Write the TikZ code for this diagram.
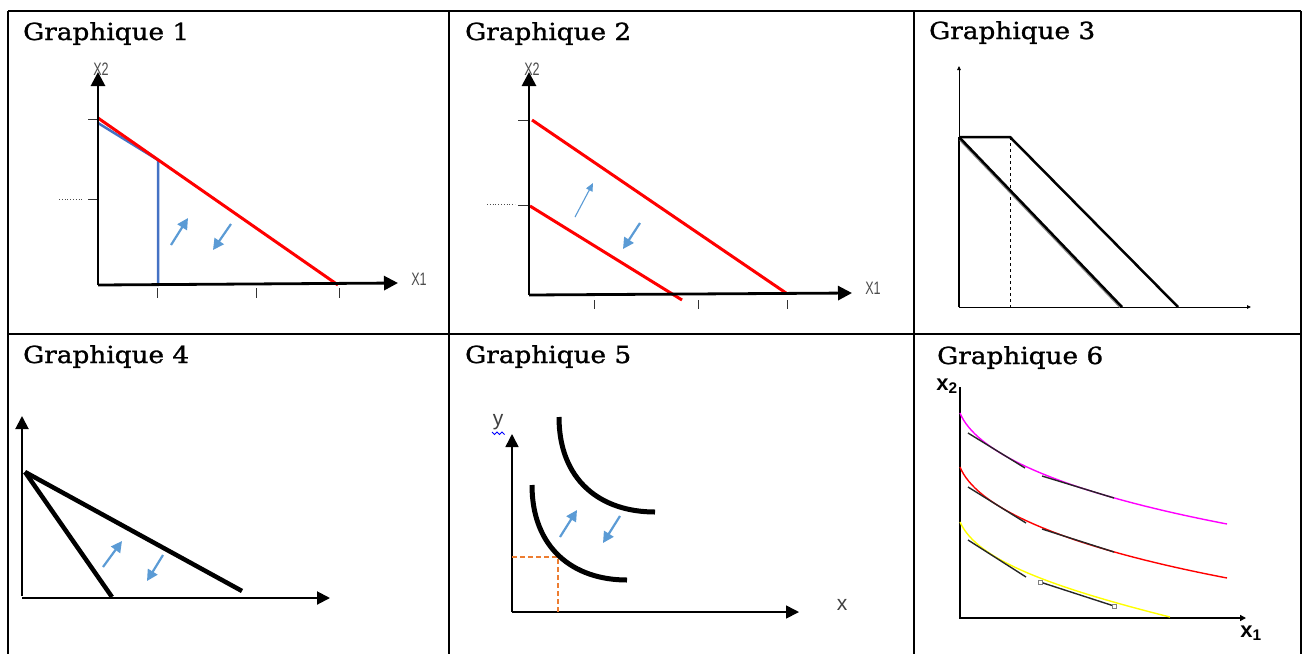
\documentclass[tikz,border=0pt]{standalone}
\usepackage{fontspec}
\setmainfont[FakeStretch=1.12,FakeBold=1.2]{DejaVu Serif}
\newfontfamily\labfont{Liberation Sans}
\usetikzlibrary{arrows.meta}
\definecolor{lblue}{HTML}{5B9BD5}
\definecolor{dblue}{HTML}{4472C4}
\definecolor{orng}{HTML}{ED7D31}
\definecolor{redl}{HTML}{FF0000}
\definecolor{magl}{HTML}{FF00FF}
\definecolor{yell}{HTML}{FFFF00}
\begin{document}
\begin{tikzpicture}[x=1pt,y=-1pt,
  gridline/.style={line width=1.5pt, black},
  title/.style={anchor=base west, inner sep=0pt, font=\fontsize{23.5}{23.5}\selectfont},
  smalllab/.style={inner sep=0pt, font=\labfont\fontsize{18}{18}\selectfont, text=black!70, xscale=0.7},
  letterlab/.style={inner sep=0pt, font=\labfont\fontsize{21}{21}\selectfont, text=black!75},
  boldlab/.style={inner sep=0pt, font=\labfont\bfseries\fontsize{22}{22}\selectfont},
  bigaxis/.style={line width=2.8pt, -{Triangle[length=14pt,width=14pt]}},
  midaxis/.style={line width=2pt, -{Triangle[length=13pt,width=13pt]}},
  thinaxis/.style={line width=0.9pt, -{Triangle[length=4pt,width=3.5pt]}},
  tickmark/.style={line width=1pt, black!80},
  barrow/.style={lblue, line width=2.2pt, -{Triangle[length=11pt,width=11pt]}},
  thinbarrow/.style={lblue, line width=1.1pt, -{Triangle[length=8pt,width=7pt]}},
  budget/.style={redl, line width=3pt},
  thickline/.style={line width=4.5pt, black},
  indiff/.style={line width=1.4pt},
  tangent/.style={line width=1.4pt, black!85},
]
\useasboundingbox (0,0) rectangle (1303,654);
% ---------- table ----------
\draw[gridline] (8,11) -- (1301,11);
\draw[gridline] (8,334) -- (1301,334);
\draw[gridline] (8,11) -- (8,654);
\draw[gridline] (449,11) -- (449,654);
\draw[gridline] (914,11) -- (914,654);
\draw[gridline] (1301,11) -- (1301,654);
% ---------- titles ----------
\node[title] (t1) at (23,40) {Graphique 1};
\node[title] (t2) at (465,40) {Graphique 2};
\node[title] (t3) at (929,39) {Graphique 3};
\node[title] (t4) at (23,363) {Graphique 4};
\node[title] (t5) at (465,363) {Graphique 5};
\node[title] (t6) at (937,364) {Graphique 6};
% ---------- Graphique 1 ----------
\coordinate (a1o) at (98,285);
\coordinate (a1y) at (98,72);
\coordinate (a1x) at (398,283);
\node[smalllab] (l1y) at (101,69) {X2};
\node[smalllab] (l1x) at (419,279) {X1};
\draw[tickmark] (88,119) -- (98,119);
\draw[tickmark] (88,199) -- (98,199);
\draw[line width=0.8pt, dotted, black!70] (59,199) -- (83,199);
\draw[tickmark] (157,288) -- (157,298);
\draw[tickmark] (256,288) -- (256,298);
\draw[tickmark] (339,288) -- (339,298);
\draw[dblue, line width=2.5pt, line join=round] (98,123) -- (158,160) -- (158,285);
\draw[budget] (98,118) -- (338,285);
\draw[bigaxis] (a1o) -- (a1y);
\draw[bigaxis] (a1o) -- (a1x);
\draw[barrow] (171,245) -- (188,218);
\draw[barrow] (231,224) -- (213,250);
% ---------- Graphique 2 ----------
\coordinate (a2o) at (529,295);
\coordinate (a2y) at (529,72);
\coordinate (a2x) at (852,293);
\node[smalllab] (l2y) at (532,69) {X2};
\node[smalllab] (l2x) at (873,288) {X1};
\draw[tickmark] (518,120) -- (529,120);
\draw[tickmark] (518,205) -- (529,205);
\draw[line width=0.8pt, dotted, black!70] (487,204) -- (515,204);
\draw[tickmark] (594,300) -- (594,309);
\draw[tickmark] (698,300) -- (698,309);
\draw[tickmark] (787,300) -- (787,309);
\draw[budget] (532,120) -- (786,293);
\draw[budget] (530,206) -- (682,300);
\draw[bigaxis] (a2o) -- (a2y);
\draw[bigaxis] (a2o) -- (a2x);
\draw[thinbarrow] (575,217) -- (593,183);
\draw[barrow] (640,223) -- (623,249);
% ---------- Graphique 3 ----------
\coordinate (a3o) at (959,307);
\coordinate (a3y) at (959,66);
\coordinate (a3x) at (1251,307);
\coordinate (k3a) at (959,137);
\coordinate (k3b) at (1010,137);
\draw[thinaxis] (a3o) -- (a3y);
\draw[thinaxis] (a3o) -- (a3x);
\draw[line width=2pt] (a3o) -- (k3a);
\draw[line width=1pt, dashed] (k3b) -- (1010,307);
\draw[line width=2pt, black!45] (960,140) -- (1120,307);
\draw[line width=2.5pt] (k3a) -- (1122,307);
\draw[line width=2.5pt, line join=round] (k3a) -- (k3b) -- (1178,307);
% ---------- Graphique 4 ----------
\coordinate (a4o) at (22,598);
\coordinate (a4y) at (22,416);
\coordinate (a4x) at (330,598);
\draw[midaxis] (22,596) -- (a4y);
\draw[midaxis] (a4o) -- (a4x);
\draw[thickline] (25,472) -- (112,597);
\draw[thickline] (25,472) -- (242,591);
\draw[barrow] (103,567) -- (122,541);
\draw[barrow] (163,555) -- (147,581);
% ---------- Graphique 5 ----------
\coordinate (a5o) at (512,612);
\coordinate (a5y) at (512,434);
\coordinate (a5x) at (799,612);
\draw[midaxis, line width=1.6pt] (a5o) -- (a5y);
\draw[midaxis, line width=1.6pt] (a5o) -- (a5x);
\node[letterlab] (l5y) at (498,422) {y};
\draw[blue, line width=1pt] (492,432) -- (494.5,434.5) -- (497,432) -- (499.5,434.5) -- (502,432) -- (504.5,434.5);
\node[letterlab] (l5x) at (842,605) {x};
\draw[orng, line width=1.2pt, dash pattern=on 5pt off 3pt] (512,557) -- (558,557) -- (558,612);
\draw[thickline, line width=5pt] (559,417) .. controls (559,480) and (600,512) .. (655,512);
\draw[thickline, line width=5pt] (532,485) .. controls (532,548) and (573,580) .. (627,580);
\draw[barrow] (560,537) -- (577,510);
\draw[barrow] (620,516) -- (603,543);
% ---------- Graphique 6 ----------
\coordinate (a6o) at (960,618);
\coordinate (a6y) at (960,387);
\coordinate (a6x) at (1246,618);
\draw[line width=2pt] (a6o) -- (a6y);
\draw[line width=2pt, -{Triangle[length=6pt,width=6pt]}] (959,618) -- (a6x);
\node[boldlab] (l6y) at (947,386) {x\textsubscript{2}};
\node[boldlab] (l6x) at (1251,633) {x\textsubscript{1}};
\draw[indiff, magl] (960,413) .. controls (975,450) and (1050,490) .. (1227,524);
\draw[indiff, redl] (960,467) .. controls (975,504) and (1050,544) .. (1227,578);
\draw[indiff, yell] (960,522) .. controls (975,555) and (1030,582) .. (1170,617);
\draw[tangent] (968,433) -- (1025,468);
\draw[tangent] (1042,476) -- (1114,498);
\draw[tangent] (968,487) -- (1026,523);
\draw[tangent] (1042,529) -- (1114,552);
\draw[tangent] (968,540) -- (1026,577);
\draw[tangent] (1040,582) -- (1114,606);
\draw[black!50, fill=white, line width=0.5pt] (1038,580) rectangle (1042,584);
\draw[black!50, fill=white, line width=0.5pt] (1112,604) rectangle (1116,608);
\end{tikzpicture}
\end{document}
